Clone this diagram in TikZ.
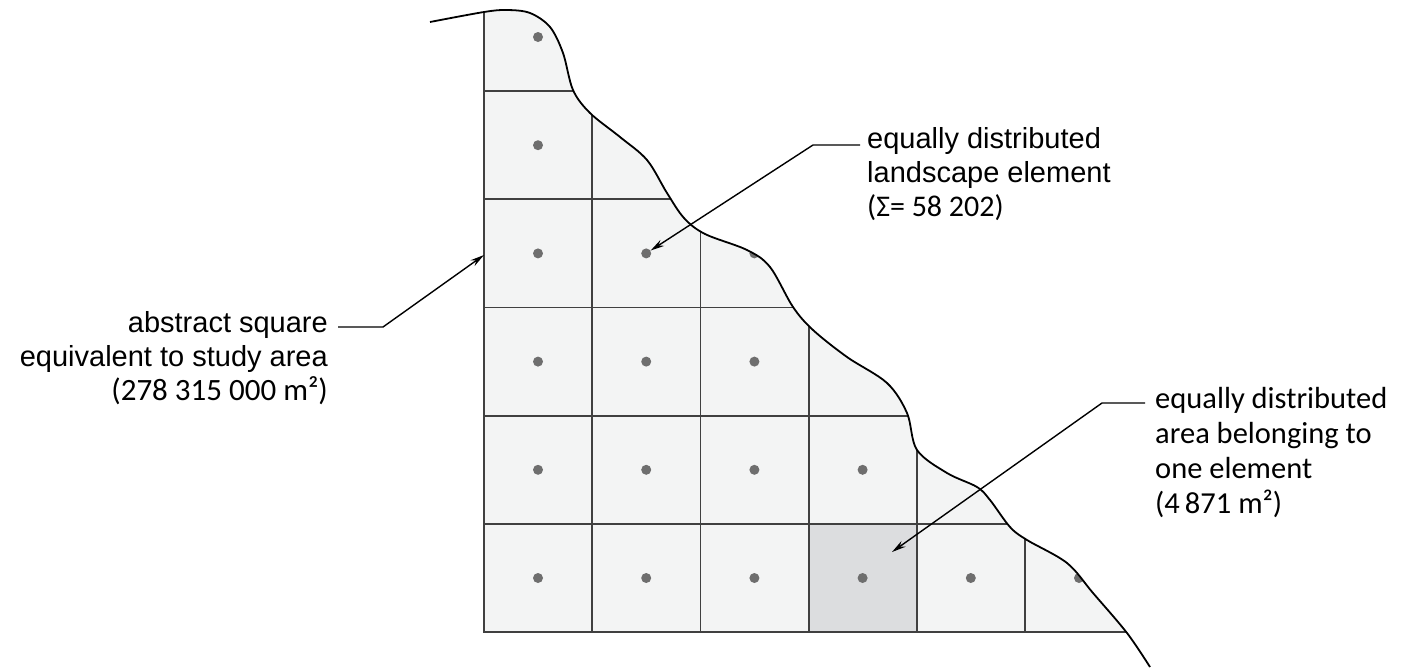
\documentclass[tikz,border=0pt]{standalone}
\usepackage{fontspec}
\setmainfont{Liberation Sans}
\newfontfamily\calib{Carlito}
\usetikzlibrary{arrows.meta, calc, positioning}
\definecolor{CellFill} {HTML}{F3F4F4}
\definecolor{CellPick} {HTML}{DCDDDF}
\definecolor{GridLine} {HTML}{404040}
\definecolor{DotGrey}  {HTML}{6E6E6E}

\begin{document}
\begin{tikzpicture}[
  x=1pt, y=-1pt,
  lbl/.style={font=\fontsize{29}{34}\selectfont, inner sep=0pt},
  ar/.style={-{Stealth[length=14pt, width=7pt]}, line width=1.4pt},
  gridln/.style={draw=GridLine, line width=1.8pt},
  dot/.style={circle, fill=DotGrey, inner sep=0pt, minimum size=10pt},
  coast/.style={insert path={plot[smooth, tension=0.55] coordinates {
      (430,22) (484,12) (507,10) (530,13) (550,27) (563,53) (573,90)
      (590,113) (620,137) (647,160) (667,193) (684,218) (705,234)
      (747,250) (770,267) (793,307) (813,330) (847,357) (887,383)
      (907,413) (917,450) (947,473) (977,487) (990,500) (1010,527)
      (1027,540) (1067,563) (1093,593) (1127,633) (1150,667)}}}
]
  \useasboundingbox (0,0) rectangle (1420,670);
  \def\cell{108.2}

  % cells of the abstract square, cut by the boundary
  \begin{scope}
    \clip (484,632) rectangle (1300,0);
    \clip[coast] -- (1150,700) -- (430,700) -- cycle;
    \fill[CellFill] (484,0) rectangle (1300,632);
    \fill[CellPick] (808.6,523.8) rectangle (916.8,632);
    \foreach \i in {1,...,6}
      \draw[gridln] ({484+\i*\cell},0) -- ({484+\i*\cell},632);
    \foreach \j in {1,...,6}
      \draw[gridln] (484,{632-\j*\cell}) -- (1300,{632-\j*\cell});
    \foreach \i in {0,...,5}
      \foreach \j in {0,...,5}
        \node[dot] (d\i\j) at ({538+\i*\cell},{578-\j*\cell}) {};
  \end{scope}

  \draw[gridln] (484,12) -- (484,632) -- (1127,632);
  \draw[line width=1.8pt, coast];

  \coordinate (edgetip) at (484,255);
  \coordinate (picktip) at (892,552);

  % labels and leaders
  \node[lbl, align=right, anchor=base east] (sqtxt) at (328,400)
      {abstract square\\equivalent to study area\\{\calib\fontsize{31}{34}\selectfont(278 315 000 m²)}};
  \node[lbl, align=left, anchor=base west] (elemtxt) at (867,216)
      {equally distributed\\landscape element\\{\calib\fontsize{30}{34}\selectfont(Σ= 58 202)}};
  \node[lbl, align=left, anchor=base west, font=\calib\fontsize{30.5}{35}\selectfont]
      (areatxt) at (1155,513)
      {equally distributed\\area belonging to\\one element\\(4\,871 m²)};

  \draw[ar] ([shift={(10,-73)}]sqtxt.base east) -- ++(45,0) -- (edgetip);
  \draw[ar] ([shift={(-7,-71)}]elemtxt.base west) -- ++(-47,0) -- (d13);
  \draw[ar] ([shift={(-10,-110)}]areatxt.base west) -- ++(-43,0) -- (picktip);
\end{tikzpicture}
\end{document}
